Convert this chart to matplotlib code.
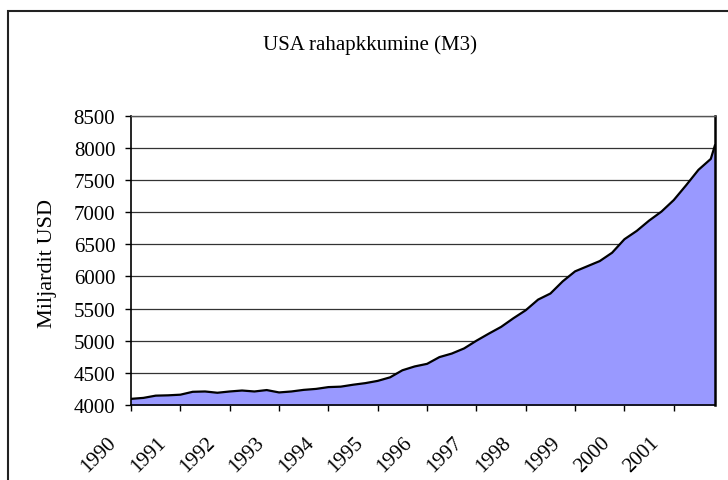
import matplotlib
matplotlib.use("Agg")
import matplotlib.pyplot as plt
from matplotlib.patches import Rectangle
from matplotlib.transforms import ScaledTranslation

# M3 money supply (month index from Jan 1990, billions USD)
months = [0, 3, 6, 9, 12, 15, 18, 21, 24, 27, 30, 33,
          36, 39, 42, 45, 48, 51, 54, 57, 60, 63, 66, 69,
          72, 75, 78, 81, 84, 87, 90, 93, 96, 99, 102, 105,
          108, 111, 114, 117, 120, 123, 126, 129, 132, 135, 138, 141, 142]
m3 = [4095, 4110, 4145, 4150, 4160, 4205, 4210, 4190, 4210, 4225, 4210, 4232,
      4195, 4210, 4235, 4250, 4278, 4285, 4315, 4340, 4375, 4430, 4540, 4600,
      4640, 4745, 4800, 4880, 5000, 5110, 5215, 5350, 5475, 5640, 5735, 5925,
      6080, 6160, 6240, 6370, 6580, 6710, 6870, 7010, 7190, 7420, 7660, 7830, 8040]
year_labels = [str(y) for y in range(1990, 2002)]
y_ticks = list(range(4000, 8501, 500))

plt.rcParams['font.family'] = ['Liberation Serif', 'DejaVu Serif']
FS = 15

fig = plt.figure(figsize=(7.28, 4.81), dpi=100)
ax = fig.add_axes([0.180, 0.156, 0.802, 0.601])

x = [m / 12 for m in months]
ax.fill_between(x, 4000, m3, color='#9999ff', zorder=2)
ax.plot(x, m3, color='black', linewidth=1.6, zorder=3)

ax.set_xlim(0, 142 / 12)
ax.set_ylim(4000, 8500)
ax.set_yticks(y_ticks)
ax.set_xticks(range(len(year_labels)))
ax.set_xticklabels(year_labels, rotation=45, ha='right', va='top',
                   rotation_mode='anchor')
ax.tick_params(axis='both', direction='out', length=4.3, width=1,
               labelsize=FS)
ax.tick_params(axis='y', pad=7)
ax.tick_params(axis='x', pad=8)
# shift the slanted year labels down/left like the original
shift = ScaledTranslation(-0.24, -0.11, fig.dpi_scale_trans)
for lbl in ax.get_xticklabels():
    lbl.set_transform(lbl.get_transform() + shift)

ax.grid(axis='y', color='#333333', linewidth=0.9, zorder=1)
ax.set_axisbelow(True)
for side in ['left', 'bottom']:
    ax.spines[side].set_color('black')
    ax.spines[side].set_linewidth(1.2)
ax.spines['top'].set_color('#555555')
ax.spines['top'].set_linewidth(1.0)
ax.spines['right'].set_color('black')
ax.spines['right'].set_linewidth(1.8)

fig.text(0.508, 0.906, "USA rahapkkumine (M3)", ha='center', va='center',
         fontsize=FS)
fig.text(0.065, 0.452, "Miljardit USD", rotation=90, ha='center',
         va='center', fontsize=FS + 1)

# outer chart border (runs off the right and bottom edge)
fig.patches.append(Rectangle((0.011, -0.1), 1.2, 1.075, transform=fig.transFigure,
                             fill=False, edgecolor='#222222', linewidth=1.5))

fig.savefig("out.png", dpi=100)
